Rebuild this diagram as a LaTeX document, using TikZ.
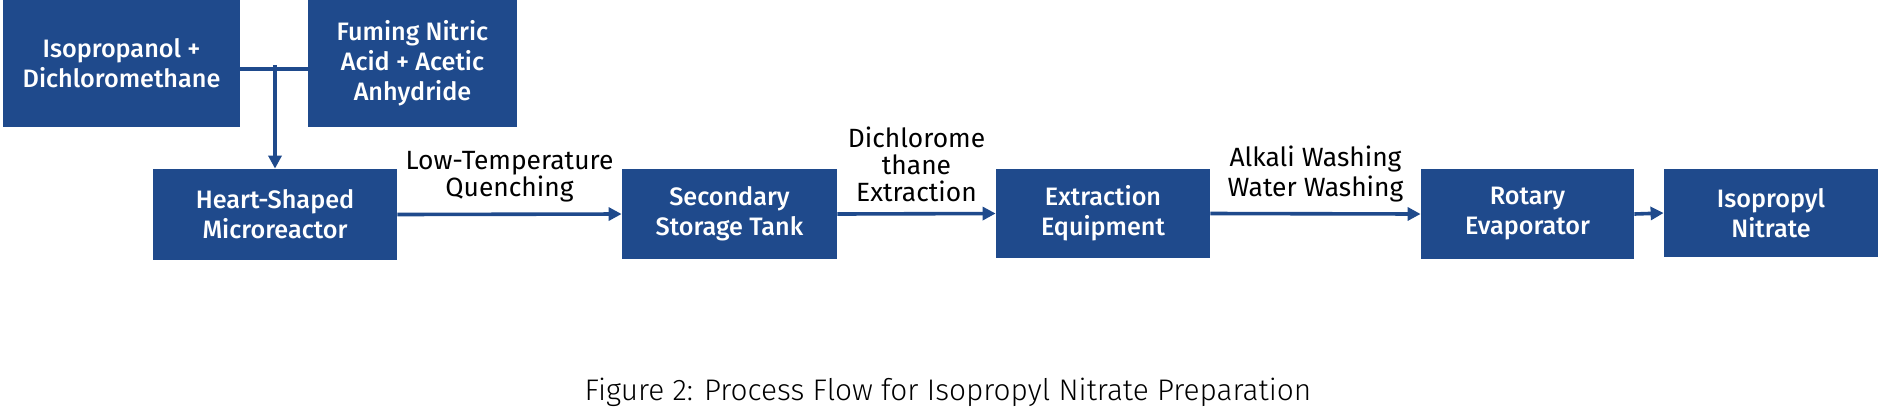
\documentclass[tikz,border=0pt]{standalone}
\usepackage{fontspec}
\setmainfont{Fira Sans}
\newfontfamily\boxfont{Fira Sans}[UprightFont=* Medium]
\newfontfamily\capfont{Fira Sans}[UprightFont=* Light]
\usetikzlibrary{arrows.meta,positioning}
\definecolor{flowblue}{RGB}{31,74,140}

\begin{document}
\begin{tikzpicture}
[
	x=0.5pt,
	y=-0.5pt,
	unitbox/.style={fill=flowblue,text=white,font=\boxfont\fontsize{12.6}{15}\selectfont,align=center,inner sep=0pt},
	flow/.style={-{Triangle[length=6.5pt,width=6.5pt]},flowblue,line width=1.8pt},
	steplabel/.style={text=black,font=\fontsize{13.2}{13.5}\selectfont,align=center,inner sep=0pt,above=5pt}
]

	% frame
	\useasboundingbox (0,0) rectangle (1882,419);

	% feeds
	\node[unitbox,minimum width=118.5pt,minimum height=63.5pt] (iso) at (121.5,63.5) {Isopropanol +\\Dichloromethane};
	\node[unitbox,minimum width=104.5pt,minimum height=63.5pt] (fum) at (412.5,63.5) {Fuming Nitric\\Acid + Acetic\\Anhydride};

	% process units
	\node[unitbox,minimum width=122pt,minimum height=45.5pt] (heart) at (275,214.5) {Heart-Shaped\\Microreactor};
	\node[unitbox,minimum width=107.5pt,minimum height=45pt] (tank) at (729.5,214) {Secondary\\Storage Tank};
	\node[unitbox,minimum width=107pt,minimum height=44.5pt] (extr) at (1103,213.5) {Extraction\\Equipment};
	\node[unitbox,minimum width=106.5pt,minimum height=45pt] (rot) at (1527.5,214) {Rotary\\Evaporator};
	\node[unitbox,minimum width=107pt,minimum height=44pt] (prod) at (1771,213) {Isopropyl\\Nitrate};

	% mixing
	\coordinate (mix) at (275,69);
	\draw[flowblue,line width=1.8pt] (iso.east |- mix) -- (fum.west |- mix);
	\draw[flow] ([yshift=2pt]mix) -- (heart.north);

	% main line
	\draw[flow] (heart.east) -- node[steplabel] (quench) {Low-Temperature\\Quenching} (tank.west);
	\draw[flow] (tank.east) -- node[steplabel] (dcm) {Dichlorome\\thane\\Extraction} (extr.west);
	\draw[flow] (extr.east) -- node[steplabel,font=\fontsize{13.2}{15}\selectfont] (wash) {Alkali Washing\\Water Washing} (rot.west);
	\draw[flow] (rot.east) -- (prod.west);

	\node[font=\capfont\fontsize{14.9}{16}\selectfont] (caption) at (948,392) {Figure 2: Process Flow for Isopropyl Nitrate Preparation};

\end{tikzpicture}
\end{document}
